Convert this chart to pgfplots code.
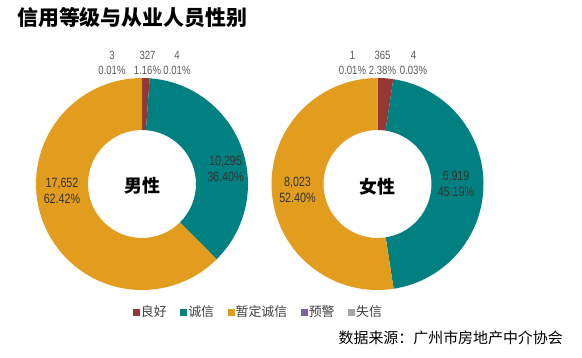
\documentclass[border=0pt]{standalone}
\usepackage{pgfplots}
\pgfplotsset{compat=1.18}
\usepackage{pgfplotstable}
\usepackage{fontspec}
\setmainfont{Noto Sans CJK SC}
\newfontfamily\numfont[FakeStretch=0.8]{Liberation Sans}
\definecolor{cRed}{HTML}{953735}
\definecolor{cTeal}{HTML}{008080}
\definecolor{cOrange}{HTML}{E29C1E}
\definecolor{cPurple}{HTML}{8064A2}
\definecolor{cGray}{HTML}{A5A5A5}
\definecolor{lblDark}{HTML}{333333}
\definecolor{lblGray}{HTML}{595959}
\definecolor{legTxt}{HTML}{404040}

% order: 良好, 诚信, 暂定诚信, 预警, 失信
\pgfplotstableread{
value
327
10295
17652
3
4
}\maledata
\pgfplotstableread{
value
365
6919
8023
1
4
}\femaledata

\def\Ro{106}
\def\Ri{54}
\newcommand{\donut}[1]{%
  \def\total{0}%
  \pgfplotsforeachungrouped \i in {0,1,2,3,4}{%
    \pgfplotstablegetelem{\i}{value}\of{#1}%
    \edef\total{\fpeval{\total+\pgfplotsretval}}%
  }%
  \def\cur{90}%
  \pgfplotsforeachungrouped \i in {0,1,2,3,4}{%
    \pgfplotstablegetelem{\i}{value}\of{#1}%
    \edef\nxt{\fpeval{round(\cur-360*\pgfplotsretval/\total,4)}}%
    \edef\col{\ifcase\i cRed\or cTeal\or cOrange\or cPurple\else cGray\fi}%
    \edef\temp{\noexpand\fill[\col] (axis cs:\fpeval{round(\Ro*cosd(\cur),4)},\fpeval{round(\Ro*sind(\cur),4)}) arc[start angle=\cur,end angle=\nxt,radius=\Ro bp] -- (axis cs:\fpeval{round(\Ri*cosd(\nxt),4)},\fpeval{round(\Ri*sind(\nxt),4)}) arc[start angle=\nxt,end angle=\cur,radius=\Ri bp] -- cycle;}%
    \temp
    \let\cur\nxt
  }%
}

\pgfplotsset{donutaxis/.style={
  hide axis, x=1bp, y=1bp, xmin=-110, xmax=110, ymin=-110, ymax=110,
  clip=false, anchor=origin,
}}
\tikzset{
  toplbl/.style={font=\numfont\fontsize{12}{15}\selectfont, text=lblGray, align=center, inner sep=0pt},
  slicelbl/.style={font=\numfont\fontsize{13.5}{16}\selectfont, text=lblDark, align=center, inner sep=0pt},
  ctrlbl/.style={font=\bfseries\fontsize{18}{18}\selectfont, inner sep=0pt},
}

\begin{document}
\begin{tikzpicture}
\path[use as bounding box] (0,0) rectangle (582bp,358bp);
\node[anchor=west, inner sep=0pt, font=\bfseries\fontsize{21}{21}\selectfont] at (17bp,340bp) {信用等级与从业人员性别};

\begin{axis}[donutaxis, at={(142bp,174bp)},
  legend columns=5,
  legend style={draw=none, fill=none, at={(0.445,-0.082)}, anchor=west,
    font=\fontsize{13}{14}\selectfont, text=legTxt,
    nodes={inner sep=1.5bp, anchor=west},
    /tikz/every even column/.append style={column sep=12bp}},
  legend image code/.code={\fill[#1] (0bp,-3bp) rectangle (6bp,3bp);},
]
\donut{\maledata}
\addlegendimage{cRed}\addlegendentry{良好}
\addlegendimage{cTeal}\addlegendentry{诚信}
\addlegendimage{cOrange}\addlegendentry{暂定诚信}
\addlegendimage{cPurple}\addlegendentry{预警}
\addlegendimage{cGray}\addlegendentry{失信}
\node[ctrlbl] at (axis cs:0,-2) {男性};
\node[toplbl] at (axis cs:-30,121) {3\\0.01\%};
\node[toplbl] at (axis cs:5.5,121) {327\\1.16\%};
\node[toplbl] at (axis cs:35,121) {4\\0.01\%};
\node[slicelbl] at (axis cs:83.5,15) {10,295\\36.40\%};
\node[slicelbl] at (axis cs:-80,-7) {17,652\\62.42\%};
\end{axis}

\begin{axis}[donutaxis, at={(377.5bp,174bp)}]
\donut{\femaledata}
\node[ctrlbl] at (axis cs:0,-3) {女性};
\node[toplbl] at (axis cs:-25,121) {1\\0.01\%};
\node[toplbl] at (axis cs:5,121) {365\\2.38\%};
\node[toplbl] at (axis cs:36,121) {4\\0.03\%};
\node[slicelbl] at (axis cs:78.5,0) {6,919\\45.19\%};
\node[slicelbl] at (axis cs:-80,-6) {8,023\\52.40\%};
\end{axis}

\node[anchor=east, inner sep=0pt, font=\fontsize{15}{15}\selectfont] at (563bp,20.5bp) {数据来源：广州市房地产中介协会};
\end{tikzpicture}
\end{document}
